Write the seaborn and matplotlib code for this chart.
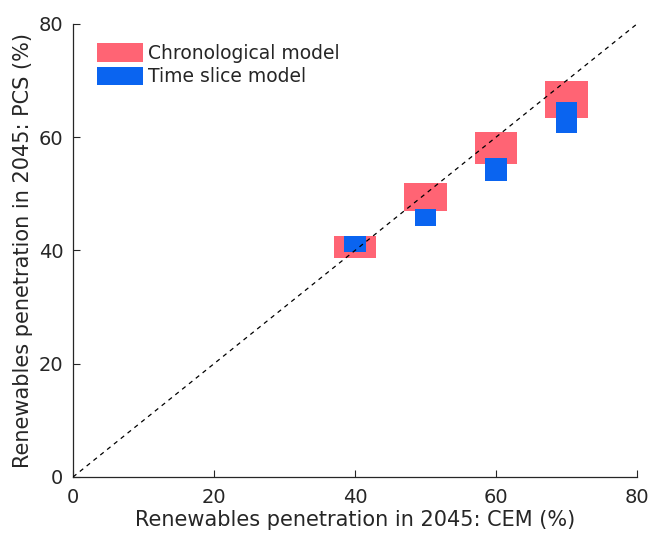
import matplotlib
matplotlib.use("Agg")
import matplotlib.pyplot as plt
import seaborn as sns
import pandas as pd
from matplotlib.patches import Patch

# CEM renewables penetration for each scenario (%)
cem = [40, 50, 60, 70]
# PCS renewables penetration range, chronological model (%)
chrono_low = [38.6, 46.9, 55.2, 63.4]
chrono_high = [42.6, 51.9, 60.9, 70.0]
# PCS renewables penetration range, time slice model (%)
slice_low = [39.8, 44.4, 52.2, 60.8]
slice_high = [42.6, 47.3, 56.3, 66.2]

series_names = ["Chronological model", "Time slice model"]
axis_ticks = [0, 20, 40, 60, 80]

PINK = "#FF6474"
BLUE = "#0A64F0"
GRAY = "#262626"

sns.set_theme(style="ticks")
plt.rcParams["font.family"] = ["DejaVu Sans"]

fig = plt.figure(figsize=(6.5, 5.4), dpi=100)
ax = fig.add_axes([0.1123, 0.1167, 0.8677, 0.839])

# 1:1 reference line
diag = pd.DataFrame({"x": [0, 80], "y": [0, 80]})
sns.lineplot(data=diag, x="x", y="y", ax=ax, color="black", lw=0.9,
             linestyle=(0, (3.5, 3.5)), zorder=4)

# floating range boxes
ax.bar(cem, [h - l for h, l in zip(chrono_high, chrono_low)], bottom=chrono_low,
       width=6, color=PINK, linewidth=0, zorder=2)
ax.bar(cem, [h - l for h, l in zip(slice_high, slice_low)], bottom=slice_low,
       width=3, color=BLUE, linewidth=0, zorder=3)

ax.set_xlim(0, 80)
ax.set_ylim(0, 80)
ax.set_xticks(axis_ticks)
ax.set_yticks(axis_ticks)
ax.tick_params(direction="in", length=5, width=0.8, colors=GRAY,
               labelsize=14)
ax.tick_params(axis="x", pad=8)
ax.tick_params(axis="y", pad=7)
for s in ["top", "right"]:
    ax.spines[s].set_visible(False)
for s in ["left", "bottom"]:
    ax.spines[s].set_color(GRAY)
    ax.spines[s].set_linewidth(0.9)

ax.set_xlabel("Renewables penetration in 2045: CEM (%)", fontsize=15, color=GRAY,
              labelpad=2)
ax.set_ylabel("Renewables penetration in 2045: PCS (%)", fontsize=15, color=GRAY,
              labelpad=4)

handles = [Patch(facecolor=PINK, edgecolor="none"),
           Patch(facecolor=BLUE, edgecolor="none")]
ax.legend(handles, series_names, loc="upper left", bbox_to_anchor=(0.0426, 0.957),
          frameon=False, fontsize=13.5, handlelength=2.45, handleheight=1.15,
          handletextpad=0.25, labelspacing=0.2, borderpad=0, borderaxespad=0)

fig.savefig("out.png", dpi=100)
